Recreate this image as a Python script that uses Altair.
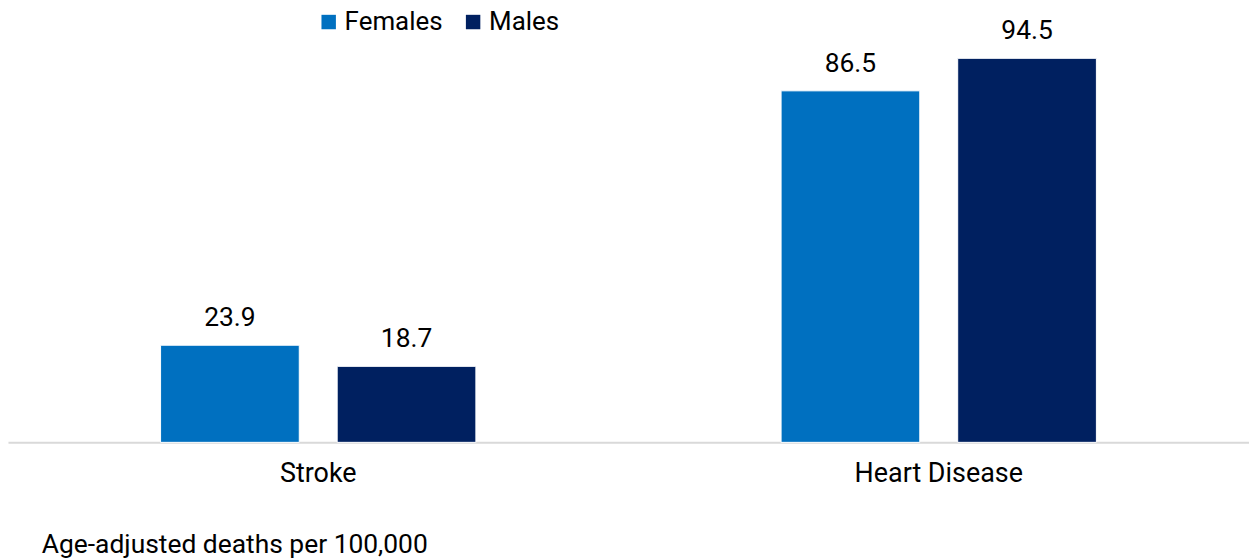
import altair as alt
import pandas as pd

causes = ["Stroke", "Heart Disease"]
sexes = ["Females", "Males"]
females = [23.9, 86.5]
males = [18.7, 94.5]
caption = "Age-adjusted deaths per 100,000"
colors = ["#0070C0", "#002060"]

rows = []
for i, c in enumerate(causes):
    rows.append({"cause": c, "sex": "Females", "value": females[i]})
    rows.append({"cause": c, "sex": "Males", "value": males[i]})
df = pd.DataFrame(rows)

FONT = "Roboto"
FS = 26.5

x_enc = alt.X("cause:N", sort=causes, title=None,
              scale=alt.Scale(paddingInner=0, paddingOuter=0),
              axis=alt.Axis(labelAngle=0, labelFontSize=27, labelFont=FONT,
                            labelColor="#000000", ticks=False, labelPadding=18,
                            domainColor="#d9d9d9", domainWidth=2, grid=False))
xo_enc = alt.XOffset("sex:N", sort=sexes,
                     scale=alt.Scale(paddingInner=0.2147, paddingOuter=0.864))
y_enc = alt.Y("value:Q", title=None, scale=alt.Scale(domain=[0, 100]), axis=None)

bars = alt.Chart(df).mark_bar(stroke="#ffffff", strokeWidth=1).encode(
    x=x_enc, xOffset=xo_enc, y=y_enc,
    color=alt.Color("sex:N", sort=sexes,
                    scale=alt.Scale(domain=sexes, range=colors),
                    legend=alt.Legend(title=None, orient="none", legendX=309, legendY=-27,
                                      direction="horizontal", symbolType="square",
                                      symbolSize=210, symbolStrokeWidth=0,
                                      labelFontSize=26, labelFont=FONT, labelColor="#000000",
                                      labelOffset=3, columnPadding=17)),
)

labels = alt.Chart(df).mark_text(font=FONT, fontSize=FS, color="#000000",
                                 align="center", baseline="alphabetic", dy=-19).encode(
    x=x_enc, xOffset=xo_enc, y=y_enc,
    text=alt.Text("value:Q", format=".1f"),
)

cap = alt.Chart(pd.DataFrame({"t": [caption]})).mark_text(
    font=FONT, fontSize=FS, color="#000000", align="left", baseline="alphabetic"
).encode(x=alt.value(34), y=alt.value(519), text="t:N")

chart = alt.layer(bars, labels, cap).properties(
    width=1246, height=408,
    autosize=alt.AutoSizeParams(type="none"),
    padding={"left": 8, "top": 35, "right": 0, "bottom": 117},
    background="#ffffff",
).configure_view(stroke=None)

chart.save("out.html", embed_options={"renderer": "svg", "actions": False})
